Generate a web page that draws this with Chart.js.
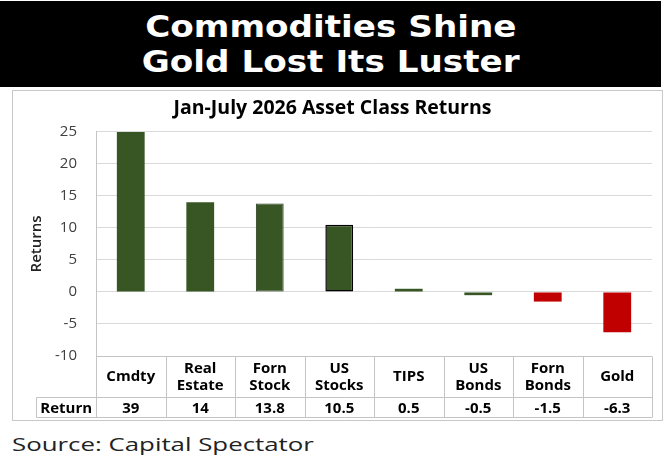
<!DOCTYPE html>
<html>
<head>
<meta charset="utf-8">
<script src="https://cdn.jsdelivr.net/npm/chart.js@4.4.1/dist/chart.umd.min.js"></script>
<style>
  body { margin: 0; width: 665px; height: 459px; background: #fff; position: relative; overflow: hidden; font-family: "Open Sans", sans-serif; }
  #banner { position: absolute; left: 0; top: 1px; width: 661px; height: 86px; background: #000; color: #fff; font-family: "DejaVu Sans", sans-serif; font-weight: bold; font-size: 30px; }
  #banner div { position: absolute; left: 0; right: 0; text-align: center; line-height: 30px; white-space: nowrap; }
  #banner span { display: inline-block; transform: scaleX(1.14); }
  #line1 { top: 10.5px; }
  #line2 { top: 45.5px; }
  #panel { position: absolute; left: 12px; top: 90px; width: 651px; height: 331px; border: 1px solid #c8c8c8; box-sizing: border-box; }
  #chartBox { position: absolute; left: 0; top: 0; width: 649px; height: 329px; }
  #source { position: absolute; left: 12px; top: 434px; font-size: 18.2px; line-height: 20px; color: #222; white-space: nowrap; transform-origin: left center; transform: scaleX(1.42); }
</style>
</head>
<body>
<div id="banner">
  <div id="line1"><span>Commodities Shine</span></div>
  <div id="line2"><span>Gold Lost Its Luster</span></div>
</div>
<div id="panel">
  <div id="chartBox"><canvas id="returnsChart"></canvas></div>
</div>
<div id="source">Source: Capital Spectator</div>

<script>
const categories = [["Cmdty"], ["Real", "Estate"], ["Forn", "Stock"], ["US", "Stocks"], ["TIPS"], ["US", "Bonds"], ["Forn", "Bonds"], ["Gold"]];
const returns = [39, 14, 13.8, 10.5, 0.5, -0.5, -1.5, -6.3];
const returnLabels = ["39", "14", "13.8", "10.5", "0.5", "-0.5", "-1.5", "-6.3"];
const barColors = ["#375623", "#375623", "#375623", "#375623", "#375623", "#375623", "#c00000", "#c00000"];
const edgeColors = ["#375623", "#375623", "#26391a", "#000000", "#375623", "#375623", "#c00000", "#c00000"];
const edgeWidths = [0, 0, 1, 1.5, 0, 0, 0, 0];

const lineColor = "#c4c4c4";

// data table under the plot, laid out on the x scale columns
const dataTable = {
  id: "dataTable",
  afterDraw(chart) {
    const ctx = chart.ctx;
    const area = chart.chartArea;
    const x = chart.scales.x;
    const colW = x.getPixelForValue(1) - x.getPixelForValue(0);
    const top = Math.round(area.bottom) + 0.5;
    const mid = top + 41;
    const bot = mid + 20;
    const headLeft = 23.5;

    ctx.save();
    ctx.strokeStyle = lineColor;
    ctx.lineWidth = 1;
    ctx.beginPath();
    ctx.moveTo(area.left, top); ctx.lineTo(area.right, top);
    ctx.moveTo(headLeft, mid); ctx.lineTo(area.right, mid);
    ctx.moveTo(headLeft, bot); ctx.lineTo(area.right, bot);
    ctx.moveTo(headLeft, mid); ctx.lineTo(headLeft, bot);
    for (let k = 0; k <= categories.length; k++) {
      const bx = Math.round(x.getPixelForValue(k) - colW / 2) + 0.5;
      ctx.moveTo(bx, top); ctx.lineTo(bx, bot);
    }
    ctx.stroke();

    ctx.fillStyle = "#000";
    ctx.font = "bold 15px 'Open Sans'";
    ctx.textAlign = "center";
    ctx.textBaseline = "middle";
    categories.forEach((lines, i) => {
      const cx = x.getPixelForValue(i);
      const y0 = (top + mid) / 2 - (lines.length - 1) * 17 / 2;
      lines.forEach((t, j) => ctx.fillText(t, cx, y0 + j * 17));
      ctx.fillText(returnLabels[i], cx, (mid + bot) / 2 + 1);
    });
    ctx.fillText("Return", (headLeft + area.left) / 2, (mid + bot) / 2 + 1);
    ctx.restore();
  }
};

new Chart(document.getElementById("returnsChart"), {
  type: "bar",
  data: {
    labels: categories.map(c => c.join(" ")),
    datasets: [{
      data: returns,
      backgroundColor: barColors,
      borderColor: edgeColors,
      borderWidth: edgeWidths,
      borderSkipped: false,
      barPercentage: 0.4,
      categoryPercentage: 1.0
    }]
  },
  options: {
    responsive: true,
    maintainAspectRatio: false,
    animation: false,
    layout: {
      padding: { left: 0, right: 10, top: 0, bottom: 64 }
    },
    scales: {
      x: {
        display: false
      },
      y: {
        min: -10,
        max: 25,
        ticks: {
          stepSize: 5,
          color: "#404040",
          padding: 19,
          font: { family: "Open Sans", size: 15 }
        },
        grid: {
          color: "#d9d9d9",
          drawTicks: false
        },
        border: {
          display: true,
          color: lineColor
        },
        title: {
          display: true,
          text: "Returns",
          color: "#222",
          padding: { top: 15 },
          font: { family: "Open Sans", size: 15, weight: "600" }
        },
        afterFit: scale => {
          scale.width = 83;
        }
      }
    },
    plugins: {
      legend: { display: false },
      tooltip: { enabled: false },
      title: {
        display: true,
        text: "Jan-July 2026 Asset Class Returns",
        color: "#000",
        padding: { top: 5.5, bottom: 12 },
        font: { family: "Open Sans", size: 19.5, weight: "bold" }
      }
    }
  },
  plugins: [dataTable]
});
</script>
</body>
</html>
